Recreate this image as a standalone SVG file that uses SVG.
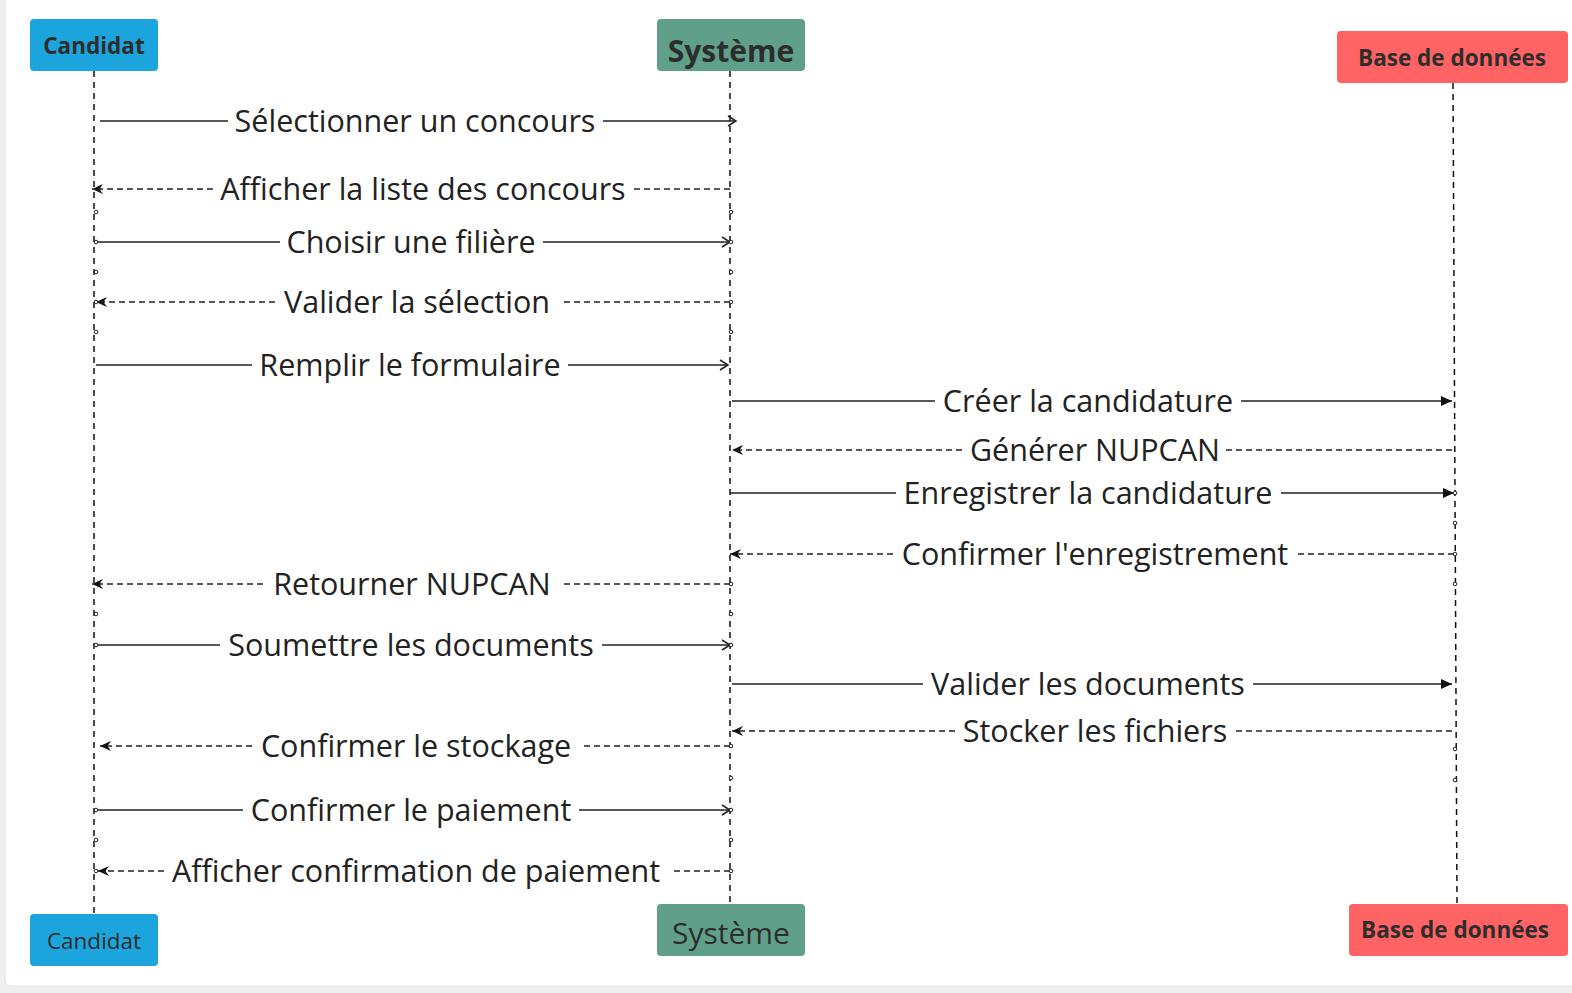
<svg xmlns="http://www.w3.org/2000/svg" width="1572" height="993" viewBox="0 0 1572 993">
<style>
.lbl{font-family:"Open Sans","Noto Sans",sans-serif;font-size:30.5px;fill:#222;text-anchor:middle}
.hd{font-family:"Open Sans","Noto Sans",sans-serif;fill:#2d2d2d;text-anchor:middle}
.life{stroke:#111;stroke-width:1.5;stroke-dasharray:6 5;fill:none}
.sol{stroke:#222;stroke-width:1.6;fill:none}
.dsh{stroke:#222;stroke-width:1.6;stroke-dasharray:6 4;fill:none}
.dot{fill:#fff;stroke:#222;stroke-width:1}
</style>
<defs>
<marker id="open" markerUnits="userSpaceOnUse" markerWidth="14" markerHeight="14" refX="9" refY="6" orient="auto"><path d="M1,1 L9,6 L1,11" fill="none" stroke="#222" stroke-width="1.5"/></marker>
<marker id="fill" markerUnits="userSpaceOnUse" markerWidth="14" markerHeight="14" refX="11" refY="6" orient="auto"><path d="M0,1 L11,6 L0,11 z" fill="#111"/></marker>
<marker id="notch" markerUnits="userSpaceOnUse" markerWidth="14" markerHeight="14" refX="11" refY="6" orient="auto"><path d="M0,1 L11,6 L0,11 L3.5,6 z" fill="#111"/></marker>
</defs>
<rect x="0" y="0" width="1572" height="993" fill="#efefef"/>
<rect x="5" y="-10" width="1580" height="996" rx="6" fill="#fff" stroke="#e4e4e4"/>

<g id="lifelines">
<line class="life" x1="94" y1="71" x2="94" y2="914"/>
<line class="life" x1="730" y1="71" x2="730" y2="904"/>
<line class="life" x1="1453" y1="83" x2="1457" y2="904"/>
</g>

<g id="candidat-top"><rect x="30" y="19" width="128" height="52" rx="4" fill="#1ca4dc"/><text class="hd" x="94" y="54" font-size="22.5" font-weight="bold">Candidat</text></g>
<g id="systeme-top"><rect x="657" y="19" width="148" height="52" rx="4" fill="#60a08a"/><text class="hd" x="731" y="62" font-size="30" font-weight="bold">Système</text></g>
<g id="bdd-top"><rect x="1337" y="31" width="231" height="52" rx="4" fill="#ff6363"/><text class="hd" x="1452" y="66" font-size="22.5" font-weight="bold">Base de données</text></g>
<g id="candidat-bottom"><rect x="30" y="914" width="128" height="52" rx="4" fill="#1ca4dc"/><text class="hd" x="94" y="949" font-size="22.5">Candidat</text></g>
<g id="systeme-bottom"><rect x="657" y="904" width="148" height="52" rx="4" fill="#60a08a"/><text class="hd" x="731" y="944" font-size="30">Système</text></g>
<g id="bdd-bottom"><rect x="1349" y="904" width="219" height="52" rx="4" fill="#ff6363"/><text class="hd" x="1455" y="938" font-size="22.5" font-weight="bold">Base de données</text></g>

<g id="connectors">
<path class="sol" d="M100,121 H228 M603,121 H736" marker-end="url(#open)"/>
<path class="dsh" d="M730,189 H633 M213,189 H92" marker-end="url(#notch)"/>
<path class="sol" d="M96,242 H280 M543,242 H730" marker-end="url(#open)"/>
<path class="dsh" d="M730,302 H562 M275,302 H96" marker-end="url(#notch)"/>
<path class="sol" d="M96,365 H252 M568,365 H728" marker-end="url(#open)"/>
<path class="sol" d="M732,401 H935 M1241,401 H1452" marker-end="url(#fill)"/>
<path class="dsh" d="M1452,450 H1226 M962,450 H732" marker-end="url(#notch)"/>
<path class="sol" d="M730,493 H896 M1281,493 H1454" marker-end="url(#fill)"/>
<path class="dsh" d="M1454,554 H1295 M893,554 H730" marker-end="url(#notch)"/>
<path class="dsh" d="M730,584 H561 M263,584 H92" marker-end="url(#notch)"/>
<path class="sol" d="M96,645 H220 M602,645 H730" marker-end="url(#open)"/>
<path class="sol" d="M732,684 H923 M1253,684 H1452" marker-end="url(#fill)"/>
<path class="dsh" d="M1452,731 H1235 M955,731 H732" marker-end="url(#notch)"/>
<path class="dsh" d="M730,746 H581 M252,746 H100" marker-end="url(#notch)"/>
<path class="sol" d="M96,810 H243 M579,810 H730" marker-end="url(#open)"/>
<path class="dsh" d="M730,871 H670 M164,871 H98" marker-end="url(#notch)"/>
</g>

<g id="labels">
<text class="lbl" x="415" y="132">Sélectionner un concours</text>
<text class="lbl" x="423" y="200">Afficher la liste des concours</text>
<text class="lbl" x="411" y="253">Choisir une filière</text>
<text class="lbl" x="417" y="313">Valider la sélection</text>
<text class="lbl" x="410" y="376">Remplir le formulaire</text>
<text class="lbl" x="1088" y="412">Créer la candidature</text>
<text class="lbl" x="1095" y="461">Générer NUPCAN</text>
<text class="lbl" x="1088" y="504">Enregistrer la candidature</text>
<text class="lbl" x="1095" y="565">Confirmer l'enregistrement</text>
<text class="lbl" x="412" y="595">Retourner NUPCAN</text>
<text class="lbl" x="411" y="656">Soumettre les documents</text>
<text class="lbl" x="1088" y="695">Valider les documents</text>
<text class="lbl" x="1095" y="742">Stocker les fichiers</text>
<text class="lbl" x="416" y="757">Confirmer le stockage</text>
<text class="lbl" x="411" y="821">Confirmer le paiement</text>
<text class="lbl" x="416" y="882">Afficher confirmation de paiement</text>
</g>

<g id="dots">
<circle class="dot" cx="96" cy="212" r="1.8"/><circle class="dot" cx="96" cy="242" r="1.8"/><circle class="dot" cx="96" cy="272" r="1.8"/><circle class="dot" cx="96" cy="302" r="1.8"/><circle class="dot" cx="96" cy="332" r="1.8"/>
<circle class="dot" cx="96" cy="614" r="1.8"/><circle class="dot" cx="96" cy="645" r="1.8"/><circle class="dot" cx="96" cy="810" r="1.8"/><circle class="dot" cx="96" cy="840" r="1.8"/><circle class="dot" cx="96" cy="871" r="1.8"/>
<circle class="dot" cx="731" cy="212" r="1.8"/><circle class="dot" cx="731" cy="242" r="1.8"/><circle class="dot" cx="731" cy="272" r="1.8"/><circle class="dot" cx="731" cy="302" r="1.8"/><circle class="dot" cx="731" cy="332" r="1.8"/>
<circle class="dot" cx="731" cy="584" r="1.8"/><circle class="dot" cx="731" cy="614" r="1.8"/><circle class="dot" cx="731" cy="645" r="1.8"/><circle class="dot" cx="731" cy="746" r="1.8"/><circle class="dot" cx="731" cy="778" r="1.8"/><circle class="dot" cx="731" cy="810" r="1.8"/><circle class="dot" cx="731" cy="840" r="1.8"/><circle class="dot" cx="731" cy="871" r="1.8"/>
<circle class="dot" cx="1455" cy="493" r="1.8"/><circle class="dot" cx="1455" cy="523" r="1.8"/><circle class="dot" cx="1455" cy="554" r="1.8"/><circle class="dot" cx="1455" cy="584" r="1.8"/><circle class="dot" cx="1455" cy="749" r="1.8"/><circle class="dot" cx="1455" cy="780" r="1.8"/>
</g>
</svg>
